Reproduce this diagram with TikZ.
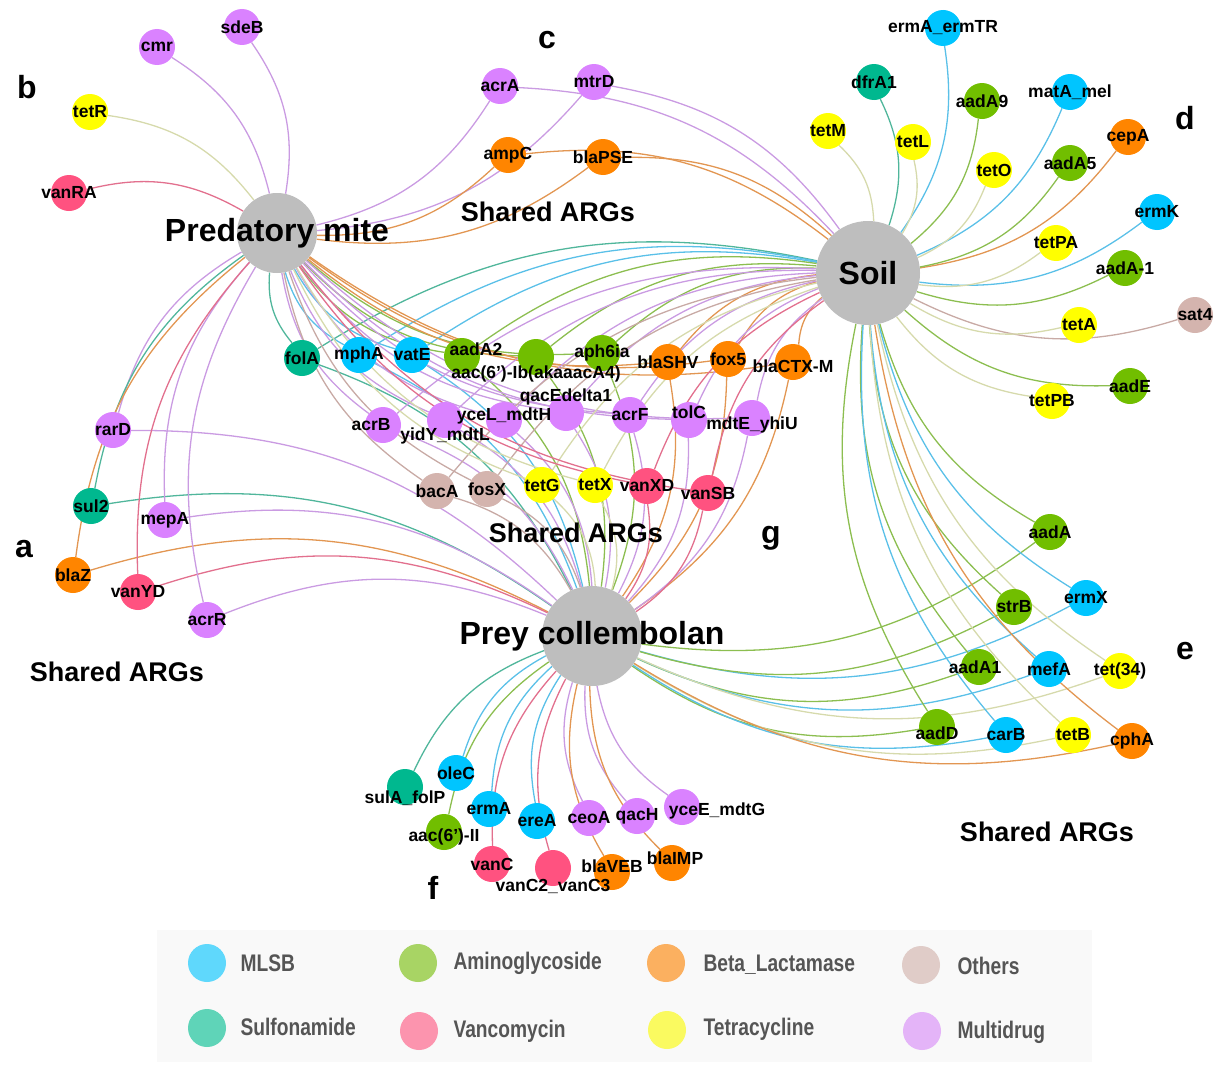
\documentclass[tikz,border=0pt]{standalone}
\usepackage{fontspec}
\setmainfont{Liberation Sans}
\newfontfamily\legendfont[FakeStretch=0.8]{Liberation Sans}
\usepackage{tikz}
\usetikzlibrary{backgrounds}
\definecolor{cMLSB}{RGB}{0,197,255}
\definecolor{cAmino}{RGB}{113,190,0}
\definecolor{cBeta}{RGB}{255,133,0}
\definecolor{cOther}{RGB}{212,180,174}
\definecolor{cSulf}{RGB}{0,184,143}
\definecolor{cVanco}{RGB}{255,82,128}
\definecolor{cTetra}{RGB}{255,255,0}
\definecolor{cMulti}{RGB}{218,130,255}
\definecolor{eMLSB}{RGB}{90,192,232}
\definecolor{eAmino}{RGB}{140,190,80}
\definecolor{eBeta}{RGB}{226,150,82}
\definecolor{eOther}{RGB}{200,170,165}
\definecolor{eSulf}{RGB}{80,182,155}
\definecolor{eVanco}{RGB}{226,112,142}
\definecolor{eTetra}{RGB}{214,218,172}
\definecolor{eMulti}{RGB}{202,155,226}
\definecolor{kMLSB}{RGB}{95,216,252}
\definecolor{kAmino}{RGB}{168,212,100}
\definecolor{kBeta}{RGB}{251,176,96}
\definecolor{kOther}{RGB}{224,204,200}
\definecolor{kSulf}{RGB}{95,212,184}
\definecolor{kVanco}{RGB}{252,148,174}
\definecolor{kTetra}{RGB}{250,250,96}
\definecolor{kMulti}{RGB}{228,180,248}
\definecolor{hubgray}{RGB}{190,190,190}
\definecolor{legbg}{RGB}{249,249,249}
\definecolor{keygray}{RGB}{85,85,85}

\begin{document}
\begin{tikzpicture}[x=1pt,y=-1pt,
  arg/.style={circle,fill=c#1,minimum size=36pt,inner sep=0pt},
  hub/.style={circle,fill=hubgray,minimum size=#1,inner sep=0pt},
  link/.style={draw=e#1,line width=1.3pt},
  every label/.style={font=\bfseries\fontsize{17.5}{17.5}\selectfont,inner sep=0pt},
  hubtext/.style={font=\bfseries\fontsize{32}{32}\selectfont},
  note/.style={font=\bfseries\fontsize{27}{27}\selectfont},
  tag/.style={font=\bfseries\fontsize{32}{32}\selectfont},
  keydot/.style={circle,fill=k#1,minimum size=38pt,inner sep=0pt},
  keytext/.style={anchor=west,text=keygray,font=\legendfont\bfseries\fontsize{24}{24}\selectfont}
]
  \useasboundingbox (0,0) rectangle (1214,1065);

  \node[hub=80pt,label={[hubtext]center:Predatory mite}] (mite) at (277,233) {};
  \node[hub=104pt,label={[hubtext]center:Soil}] (soil) at (868,273) {};
  \node[hub=100pt,label={[hubtext]center:Prey collembolan}] (coll) at (592,636) {};

  \node[arg=Multi,label=center:sdeB] (sdeB) at (242,27) {};
  \node[arg=Multi,label=center:cmr] (cmr) at (157,47) {};
  \node[arg=Tetra,label=center:tetR] (tetR) at (90,112) {};
  \node[arg=Vanco,label=center:vanRA] (vanRA) at (69,193) {};

  \node[arg=Multi,label=center:acrA] (acrA) at (500,86) {};
  \node[arg=Multi,label=center:mtrD] (mtrD) at (594,82) {};
  \node[arg=Beta,label=center:ampC] (ampC) at (508,155) {};
  \node[arg=Beta,label=center:blaPSE] (blaPSE) at (603,157) {};

  \node[arg=MLSB,label=center:ermA\_ermTR] (ermAermTR) at (943,28) {};
  \node[arg=Sulf,label=center:dfrA1] (dfrA1) at (874,82) {};
  \node[arg=Amino,label=center:aadA9] (aadA9) at (982,101) {};
  \node[arg=MLSB,label=center:matA\_mel] (matAmel) at (1070,92) {};
  \node[arg=Tetra,label=center:tetM] (tetM) at (828,131) {};
  \node[arg=Tetra,label=center:tetL] (tetL) at (913,142) {};
  \node[arg=Beta,label=center:cepA] (cepA) at (1128,137) {};
  \node[arg=Tetra,label=center:tetO] (tetO) at (994,170) {};
  \node[arg=Amino,label=center:aadA5] (aadA5) at (1070,163) {};
  \node[arg=MLSB,label=center:ermK] (ermK) at (1157,212) {};
  \node[arg=Tetra,label=center:tetPA] (tetPA) at (1056,243) {};
  \node[arg=Amino,label=center:aadA-1] (aadAone) at (1125,268) {};
  \node[arg=Other,label=center:sat4] (sat4) at (1195,315) {};
  \node[arg=Tetra,label=center:tetA] (tetA) at (1079,325) {};
  \node[arg=Amino,label=center:aadE] (aadE) at (1130,386) {};
  \node[arg=Tetra,label=center:tetPB] (tetPB) at (1052,401) {};

  \node[arg=Sulf,label=center:folA] (folA) at (302,358) {};
  \node[arg=MLSB,label=center:mphA] (mphA) at (359,355) {};
  \node[arg=MLSB,label=center:vatE] (vatE) at (412,355) {};
  \node[arg=Amino,label=center:aph6ia] (aph6ia) at (602,353) {};
  \node[arg=Amino,label={[xshift=14pt,yshift=7pt]center:aadA2}] (aadA2) at (462,356) {};
  \node[arg=Amino,label={[yshift=-17pt]center:{aac(6')-Ib(akaaacA4)}}] (aacIb) at (536,357) {};
  \node[arg=Beta,label=center:blaSHV] (blaSHV) at (668,362) {};
  \node[arg=Beta,label=center:fox5] (fox5) at (728,359) {};
  \node[arg=Beta,label={[yshift=-4pt]center:blaCTX-M}] (blaCTXM) at (793,362) {};
  \node[arg=Multi,label={[xshift=-12pt]center:acrB}] (acrB) at (383,425) {};
  \node[arg=Multi,label={[yshift=16pt]center:qacEdelta1}] (qacE) at (566,413) {};
  \node[arg=Multi,label={[yshift=-16pt]center:yidY\_mdtL}] (yidY) at (445,420) {};
  \node[arg=Multi,label={[yshift=4pt]center:yceL\_mdtH}] (yceL) at (504,420) {};
  \node[arg=Multi,label=center:acrF] (acrF) at (630,415) {};
  \node[arg=Multi,label={[yshift=8pt]center:tolC}] (tolC) at (689,420) {};
  \node[arg=Multi,label={[yshift=-7pt]center:mdtE\_yhiU}] (mdtE) at (752,418) {};
  \node[arg=Other,label=center:bacA] (bacA) at (437,491) {};
  \node[arg=Other,label=center:fosX] (fosX) at (487,489) {};
  \node[arg=Tetra,label=center:tetG] (tetG) at (542,485) {};
  \node[arg=Tetra,label=center:tetX] (tetX) at (595,485) {};
  \node[arg=Vanco,label=center:vanXD] (vanXD) at (647,486) {};
  \node[arg=Vanco,label=center:vanSB] (vanSB) at (708,493) {};

  \node[arg=Multi,label=center:rarD] (rarD) at (113,430) {};
  \node[arg=Sulf,label=center:sul2] (sul2) at (91,506) {};
  \node[arg=Multi,label=center:mepA] (mepA) at (165,520) {};
  \node[arg=Beta,label=center:blaZ] (blaZ) at (73,575) {};
  \node[arg=Vanco,label=center:vanYD] (vanYD) at (138,592) {};
  \node[arg=Multi,label=center:acrR] (acrR) at (207,620) {};

  \node[arg=MLSB,label=center:oleC] (oleC) at (456,773) {};
  \node[arg=Amino,label={[yshift=-5pt]center:{aac(6')-II}}] (aacII) at (444,832) {};
  \node[arg=Sulf,label={[yshift=-11pt]center:sulA\_folP}] (sulAfolP) at (405,787) {};
  \node[arg=MLSB,label=center:ermA] (ermA) at (489,809) {};
  \node[arg=MLSB,label=center:ereA] (ereA) at (537,821) {};
  \node[arg=Multi,label=center:ceoA] (ceoA) at (589,818) {};
  \node[arg=Multi,label=center:qacH] (qacH) at (637,816) {};
  \node[arg=Multi,label={[xshift=35pt,yshift=-4pt]center:yceE\_mdtG}] (yceE) at (682,807) {};
  \node[arg=Vanco,label=center:vanC] (vanC) at (492,864) {};
  \node[arg=Beta,label={[xshift=3pt,yshift=5pt]center:blaIMP}] (blaIMP) at (672,863) {};
  \node[arg=Beta,label={[yshift=6pt]center:blaVEB}] (blaVEB) at (612,872) {};
  \node[arg=Vanco,label={[yshift=-18pt]center:vanC2\_vanC3}] (vanCtwo) at (553,868) {};

  \node[arg=Amino,label=center:aadA] (aadA) at (1050,532) {};
  \node[arg=MLSB,label=center:ermX] (ermX) at (1086,598) {};
  \node[arg=Amino,label=center:strB] (strB) at (1014,607) {};
  \node[arg=Amino,label={[xshift=-4pt]center:aadA1}] (aadA1) at (979,667) {};
  \node[arg=MLSB,label=center:mefA] (mefA) at (1049,669) {};
  \node[arg=Tetra,label=center:tet(34)] (tet34) at (1120,671) {};
  \node[arg=Amino,label={[yshift=-6pt]center:aadD}] (aadD) at (937,727) {};
  \node[arg=MLSB,label=center:carB] (carB) at (1006,735) {};
  \node[arg=Tetra,label=center:tetB] (tetB) at (1073,735) {};
  \node[arg=Beta,label=center:cphA] (cphA) at (1132,741) {};

  \node[tag] (tagA) at (24,549) {a};
  \node[tag] (tagB) at (27,87) {b};
  \node[tag] (tagC) at (547,40) {c};
  \node[tag] (tagD) at (1185,118) {d};
  \node[tag] (tagE) at (1185,651) {e};
  \node[tag] (tagF) at (433,888) {f};
  \node[tag] (tagG) at (771,538) {g};
  \node[note] (sharedC) at (548,212) {Shared ARGs};
  \node[note] (sharedG) at (576,533) {Shared ARGs};
  \node[note] (sharedA) at (117,672) {Shared ARGs};
  \node[note] (sharedE) at (1047,832) {Shared ARGs};

  \begin{pgfonlayer}{background}
    \foreach \n/\k in {sdeB/Multi,cmr/Multi,tetR/Tetra,vanRA/Vanco}
      \draw[link=\k] (mite) to[bend right=22] (\n);
    \foreach \n/\k in {acrA/Multi,mtrD/Multi,ampC/Beta,blaPSE/Beta} {
      \draw[link=\k] (mite) to[bend right=22] (\n);
      \draw[link=\k] (soil) to[bend right=22] (\n);
    }
    \foreach \n/\k in {rarD/Multi,sul2/Sulf,mepA/Multi,blaZ/Beta,vanYD/Vanco,acrR/Multi} {
      \draw[link=\k] (mite) to[bend right=22] (\n);
      \draw[link=\k] (coll) to[bend right=22] (\n);
    }
    \foreach \n/\k in {ermAermTR/MLSB,dfrA1/Sulf,aadA9/Amino,matAmel/MLSB,tetM/Tetra,tetL/Tetra,cepA/Beta,tetO/Tetra,aadA5/Amino,ermK/MLSB,tetPA/Tetra,aadAone/Amino,sat4/Other,tetA/Tetra,aadE/Amino,tetPB/Tetra}
      \draw[link=\k] (soil) to[bend right=22] (\n);
    \foreach \n/\k in {aadA/Amino,ermX/MLSB,strB/Amino,aadA1/Amino,mefA/MLSB,tet34/Tetra,aadD/Amino,carB/MLSB,tetB/Tetra,cphA/Beta} {
      \draw[link=\k] (soil) to[bend right=22] (\n);
      \draw[link=\k] (coll) to[bend right=22] (\n);
    }
    \foreach \n/\k in {oleC/MLSB,sulAfolP/Sulf,ermA/MLSB,aacII/Amino,ereA/MLSB,ceoA/Multi,qacH/Multi,yceE/Multi,vanC/Vanco,vanCtwo/Vanco,blaVEB/Beta,blaIMP/Beta}
      \draw[link=\k] (coll) to[bend right=22] (\n);
    \foreach \n/\k in {folA/Sulf,mphA/MLSB,vatE/MLSB,aadA2/Amino,aacIb/Amino,aph6ia/Amino,blaSHV/Beta,fox5/Beta,blaCTXM/Beta,acrB/Multi,yidY/Multi,yceL/Multi,qacE/Multi,acrF/Multi,tolC/Multi,mdtE/Multi,bacA/Other,fosX/Other,tetG/Tetra,tetX/Tetra,vanXD/Vanco,vanSB/Vanco} {
      \draw[link=\k] (mite) to[bend right=22] (\n);
      \draw[link=\k] (soil) to[bend right=22] (\n);
      \draw[link=\k] (coll) to[bend right=22] (\n);
    }
  \end{pgfonlayer}

  \fill[legbg] (157,930) rectangle (1092,1062);
  \node[keydot=MLSB] (dotMLSB) at (207,963) {};
  \node[keytext] (keyMLSB) at (237,963) {MLSB};
  \node[keydot=Amino] (dotAmino) at (418,963) {};
  \node[keytext] (keyAmino) at (450,963) {Aminoglycoside};
  \node[keydot=Beta] (dotBeta) at (666,963) {};
  \node[keytext] (keyBeta) at (700,965) {Beta\_Lactamase};
  \node[keydot=Other] (dotOther) at (921,965) {};
  \node[keytext] (keyOther) at (954,966) {Others};
  \node[keydot=Sulf] (dotSulf) at (207,1028) {};
  \node[keytext] (keySulf) at (237,1027) {Sulfonamide};
  \node[keydot=Vanco] (dotVanco) at (419,1031) {};
  \node[keytext] (keyVanco) at (450,1031) {Vancomycin};
  \node[keydot=Tetra] (dotTetra) at (667,1030) {};
  \node[keytext] (keyTetra) at (700,1029) {Tetracycline};
  \node[keydot=Multi] (dotMulti) at (922,1031) {};
  \node[keytext] (keyMulti) at (954,1032) {Multidrug};
\end{tikzpicture}
\end{document}
